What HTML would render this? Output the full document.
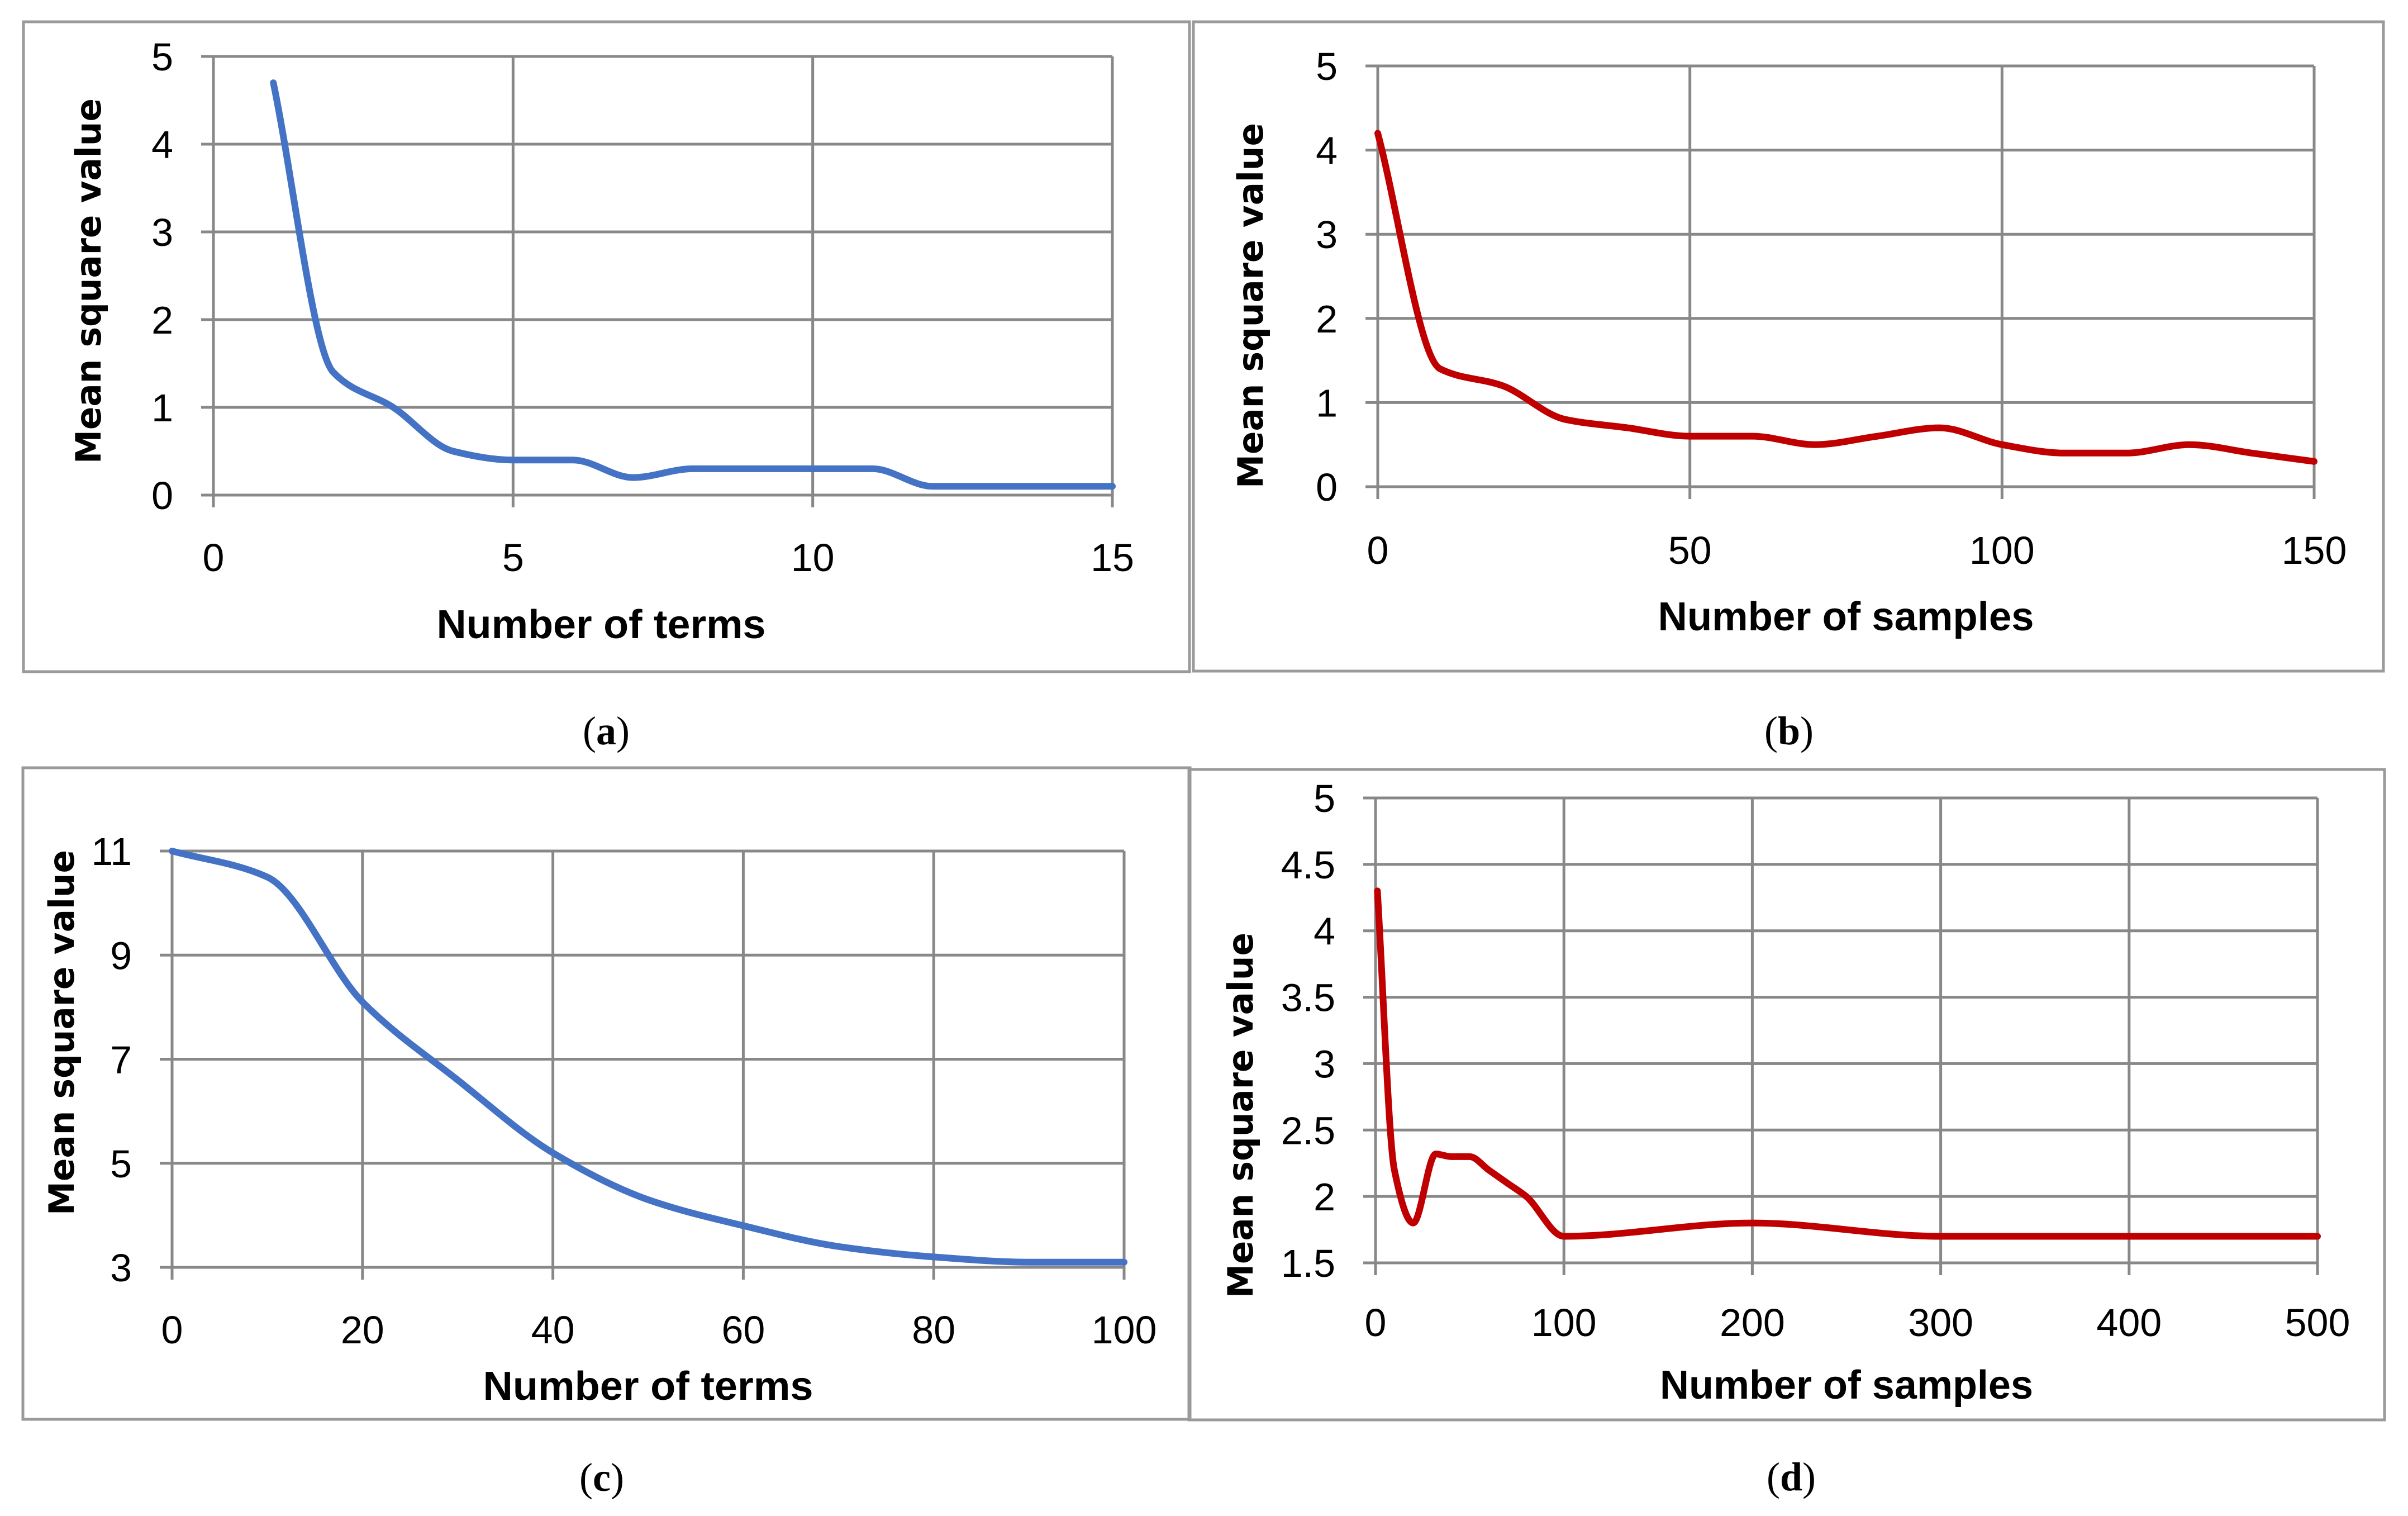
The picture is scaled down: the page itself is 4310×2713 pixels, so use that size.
<!DOCTYPE html>
<html><head><meta charset="utf-8"><style>
html,body{margin:0;padding:0;background:#fff;}
svg{display:block;}
.tick{font-family:"Liberation Sans Narrow","Liberation Sans",sans-serif;font-size:70px;fill:#000;}
.xt{font-family:"Liberation Sans Narrow","Liberation Sans",sans-serif;font-weight:bold;font-size:72px;fill:#000;}
.yt{font-family:"DejaVu Sans","Liberation Sans",sans-serif;font-weight:bold;font-size:62px;fill:#000;}
.cap{font-family:"Liberation Serif",serif;font-size:72px;fill:#000;}
</style></head><body>
<svg id="fig" width="4310" height="2713" viewBox="0 0 4310 2713" xmlns="http://www.w3.org/2000/svg"></svg>
<script>
// Panel a data
const aX = [1,2,3,4,5,6,7,8,9,10,11,12,13,14,15];
const aY = [4.7,1.4,1.0,0.5,0.4,0.4,0.2,0.3,0.3,0.3,0.3,0.1,0.1,0.1,0.1];
const aXTicks = [0,5,10,15];
const aYTicks = [0,1,2,3,4,5];
// Panel b data
const bX = [0,10,20,30,40,50,60,70,80,90,100,110,120,130,140,150];
const bY = [4.2,1.4,1.2,0.8,0.7,0.6,0.6,0.5,0.6,0.7,0.5,0.4,0.4,0.5,0.4,0.3];
const bXTicks = [0,50,100,150];
const bYTicks = [0,1,2,3,4,5];
// Panel c data
const cX = [0,10,20,30,40,50,60,70,80,90,100];
const cY = [11,10.5,8.1,6.6,5.2,4.3,3.8,3.4,3.2,3.1,3.1];
const cXTicks = [0,20,40,60,80,100];
const cYTicks = [3,5,7,9,11];
// Panel d data
const dX = [1,10,20,32,40,50,60,70,80,100,200,300,400,500];
const dY = [4.3,2.2,1.8,2.32,2.3,2.3,2.2,2.1,2.0,1.7,1.8,1.7,1.7,1.7];
const dXTicks = [0,100,200,300,400,500];
const dYTicks = [1.5,2,2.5,3,3.5,4,4.5,5];

const NS = "http://www.w3.org/2000/svg";
const svg = document.getElementById('fig');
function mk(tag, attrs, parent){
  const e = document.createElementNS(NS, tag);
  for (const k in attrs) e.setAttribute(k, attrs[k]);
  (parent||svg).appendChild(e);
  return e;
}
function monoPath(P){
  const n = P.length, dx=[], m=[], t=[];
  for (let i=0;i<n-1;i++){ dx[i]=P[i+1][0]-P[i][0]; m[i]=(P[i+1][1]-P[i][1])/dx[i]; }
  t[0]=m[0]; t[n-1]=m[n-2];
  for (let i=1;i<n-1;i++){
    if (m[i-1]*m[i]<=0) t[i]=0;
    else { const w1=2*dx[i]+dx[i-1], w2=dx[i]+2*dx[i-1]; t[i]=(w1+w2)/(w1/m[i-1]+w2/m[i]); }
  }
  let d='M'+P[0][0]+','+P[0][1];
  for (let i=0;i<n-1;i++){
    const h=dx[i]/3;
    d+=' C'+(P[i][0]+h)+','+(P[i][1]+t[i]*h)+' '+(P[i+1][0]-h)+','+(P[i+1][1]-t[i+1]*h)+' '+P[i+1][0]+','+P[i+1][1];
  }
  return d;
}
function panel(id, cfg){
  const g = mk('g', {});
  
  
  const border = mk('rect', {x:cfg.box[0], y:cfg.box[1], width:cfg.box[2]-cfg.box[0], height:cfg.box[3]-cfg.box[1], fill:'none', stroke:'#9a9a9a', 'stroke-width':5}, g);
  
  
  const [L,R,T,B] = cfg.plot;
  const xmin = cfg.xt[0], xmax = cfg.xt[cfg.xt.length-1];
  const ymin = cfg.yt[0], ymax = cfg.yt[cfg.yt.length-1];
  const sx = v => L + (v - xmin) / (xmax - xmin) * (R - L);
  const sy = v => B - (v - ymin) / (ymax - ymin) * (B - T);
  cfg.yt.forEach(v => {
    const ln = mk('line', {x1:L-22, x2:R, y1:sy(v), y2:sy(v), stroke:'#888', 'stroke-width':5}, g);
    
    
    const t = mk('text', {x:L-72, y:sy(v)+25, 'text-anchor':'end', class:'tick'}, g);
    t.textContent = v;
    
    
  });
  cfg.xt.forEach(v => {
    const ln = mk('line', {x1:sx(v), x2:sx(v), y1:T, y2:B+22, stroke:'#888', 'stroke-width':5}, g);
    
    
    const t = mk('text', {x:sx(v), y:cfg.xly+4, 'text-anchor':'middle', class:'tick'}, g);
    t.textContent = v;
    
    
  });
  const P = cfg.x.map((v,i)=>[sx(v), sy(cfg.y[i])]);
  const path = mk('path', {d:monoPath(P), fill:'none', stroke:cfg.color, 'stroke-width':12, 'stroke-linecap':'round', 'stroke-linejoin':'round'}, g);
  
  
  const xt = mk('text', {x:cfg.xtitle[0], y:cfg.xtitle[1], 'text-anchor':'middle', class:'xt', textLength:cfg.xtitle[3], lengthAdjust:'spacingAndGlyphs'}, g);
  xt.textContent = cfg.xtitle[2];
  
  
  const yt = mk('text', {x:0, y:0, 'text-anchor':'middle', class:'yt', textLength:654, lengthAdjust:'spacingAndGlyphs', transform:'translate('+cfg.ytitle[0]+','+cfg.ytitle[1]+') rotate(-90)'}, g);
  yt.textContent = 'Mean square value';
  
  
  const cap = mk('text', {x:cfg.cap[0], y:cfg.cap[1]+24, 'text-anchor':'middle', class:'cap'}, g);
  cap.innerHTML = '(<tspan font-weight="bold">' + id + '</tspan>)';
  
  
}
panel('a', {box:[42,39,2129,1202], plot:[382,1991,101,886], x:aX, y:aY, xt:aXTicks, yt:aYTicks, xly:1018, color:'#4472C4',
  xtitle:[1076,1142,'Number of terms',589], ytitle:[180,503], cap:[1085,1308]});
panel('b', {box:[2136,39,4266,1201], plot:[2466,4142,118,871], x:bX, y:bY, xt:bXTicks, yt:bYTicks, xly:1005, color:'#C00000',
  xtitle:[3304,1128,'Number of samples',673], ytitle:[2260,547], cap:[3202,1308]});
panel('c', {box:[41,1374,2130,2540], plot:[308,2012,1523,2268], x:cX, y:cY, xt:cXTicks, yt:cYTicks, xly:2400, color:'#4472C4',
  xtitle:[1160,2505,'Number of terms',591], ytitle:[132,1848], cap:[1077,2644]});
panel('d', {box:[2128,1377,4268,2541], plot:[2462,4148,1428,2260], x:dX, y:dY, xt:dXTicks, yt:dYTicks, xly:2387, color:'#C00000',
  xtitle:[3305,2503,'Number of samples',668], ytitle:[2242,1996], cap:[3206,2643]});
</script>
</body></html>
